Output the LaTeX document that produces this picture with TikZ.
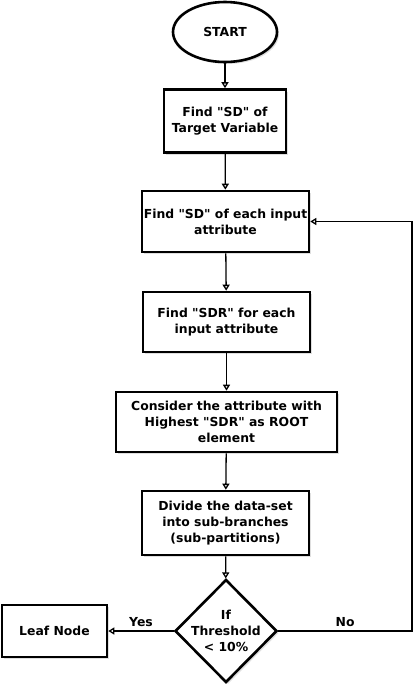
\documentclass[tikz,border=0pt]{standalone}
\usepackage{fontspec}
\setmainfont{DejaVu Sans}
\usetikzlibrary{shapes.geometric,arrows.meta,shadows}

\tikzset{
  boxtext/.style={font=\bfseries\fontsize{12.4}{16}\selectfont, align=center},
  sketchy/.style={draw, line width=2.6pt, fill=white, inner sep=0pt,
    drop shadow={shadow xshift=2pt, shadow yshift=-2pt, fill=black!25}},
  stepbox/.style={sketchy, boxtext, rectangle},
  termnode/.style={sketchy, boxtext, ellipse},
  decide/.style={sketchy, boxtext, diamond, inner sep=-4pt},
  flowline/.style={line width=1.3pt, -{Triangle[open, length=6pt, width=7pt]}},
}

\begin{document}
\begin{tikzpicture}[x=1pt, y=-1pt]
		%%%%% START %%%%%
		
		\useasboundingbox (0, 0) rectangle (420, 686);
		
		\node[termnode, minimum width=104pt, minimum height=60pt] (start) at (225, 32) {START};
		\node[stepbox, minimum width=122pt, minimum height=63pt] (sdtarget) at (225, 121) {Find \textquotedbl SD\textquotedbl{} of\\Target Variable};
		\node[stepbox, minimum width=167pt, minimum height=61pt] (sdinput) at (225.5, 221.5) {Find \textquotedbl SD\textquotedbl{} of each input\\attribute};
		\node[stepbox, minimum width=167pt, minimum height=60pt] (sdr) at (226.5, 322) {Find \textquotedbl SDR\textquotedbl{} for each\\input attribute};
		\node[stepbox, minimum width=221pt, minimum height=60pt] (root) at (226.5, 422) {Consider the attribute with\\Highest \textquotedbl SDR\textquotedbl{} as ROOT\\element};
		\node[stepbox, minimum width=167pt, minimum height=64pt] (divide) at (225.5, 523) {Divide the data-set\\into sub-branches\\(sub-partitions)};
		\node[decide, minimum width=102pt, minimum height=103pt] (thresh) at (226, 631) {If\\Threshold\\< 10\%};
		\node[stepbox, minimum width=105pt, minimum height=52pt] (leaf) at (54.5, 631) {Leaf Node};
		
		\coordinate (loopcorner) at (412, 631);
		
		\draw[flowline] (start) -- (sdtarget);
		\draw[flowline] (sdtarget) -- (sdinput);
		\draw[flowline] (sdinput) -- (sdr);
		\draw[flowline] (sdr) -- (root);
		\draw[flowline] (root) -- (divide);
		\draw[flowline] (divide) -- (thresh);
		
		\draw[flowline] (thresh.west) -- node[boxtext, above] {Yes} (leaf.east);
		\draw[flowline] (thresh.east) -- node[boxtext, above] {No} (loopcorner) |- (sdinput.east);
		
		%%%%% END %%%%%
\end{tikzpicture}
\end{document}
